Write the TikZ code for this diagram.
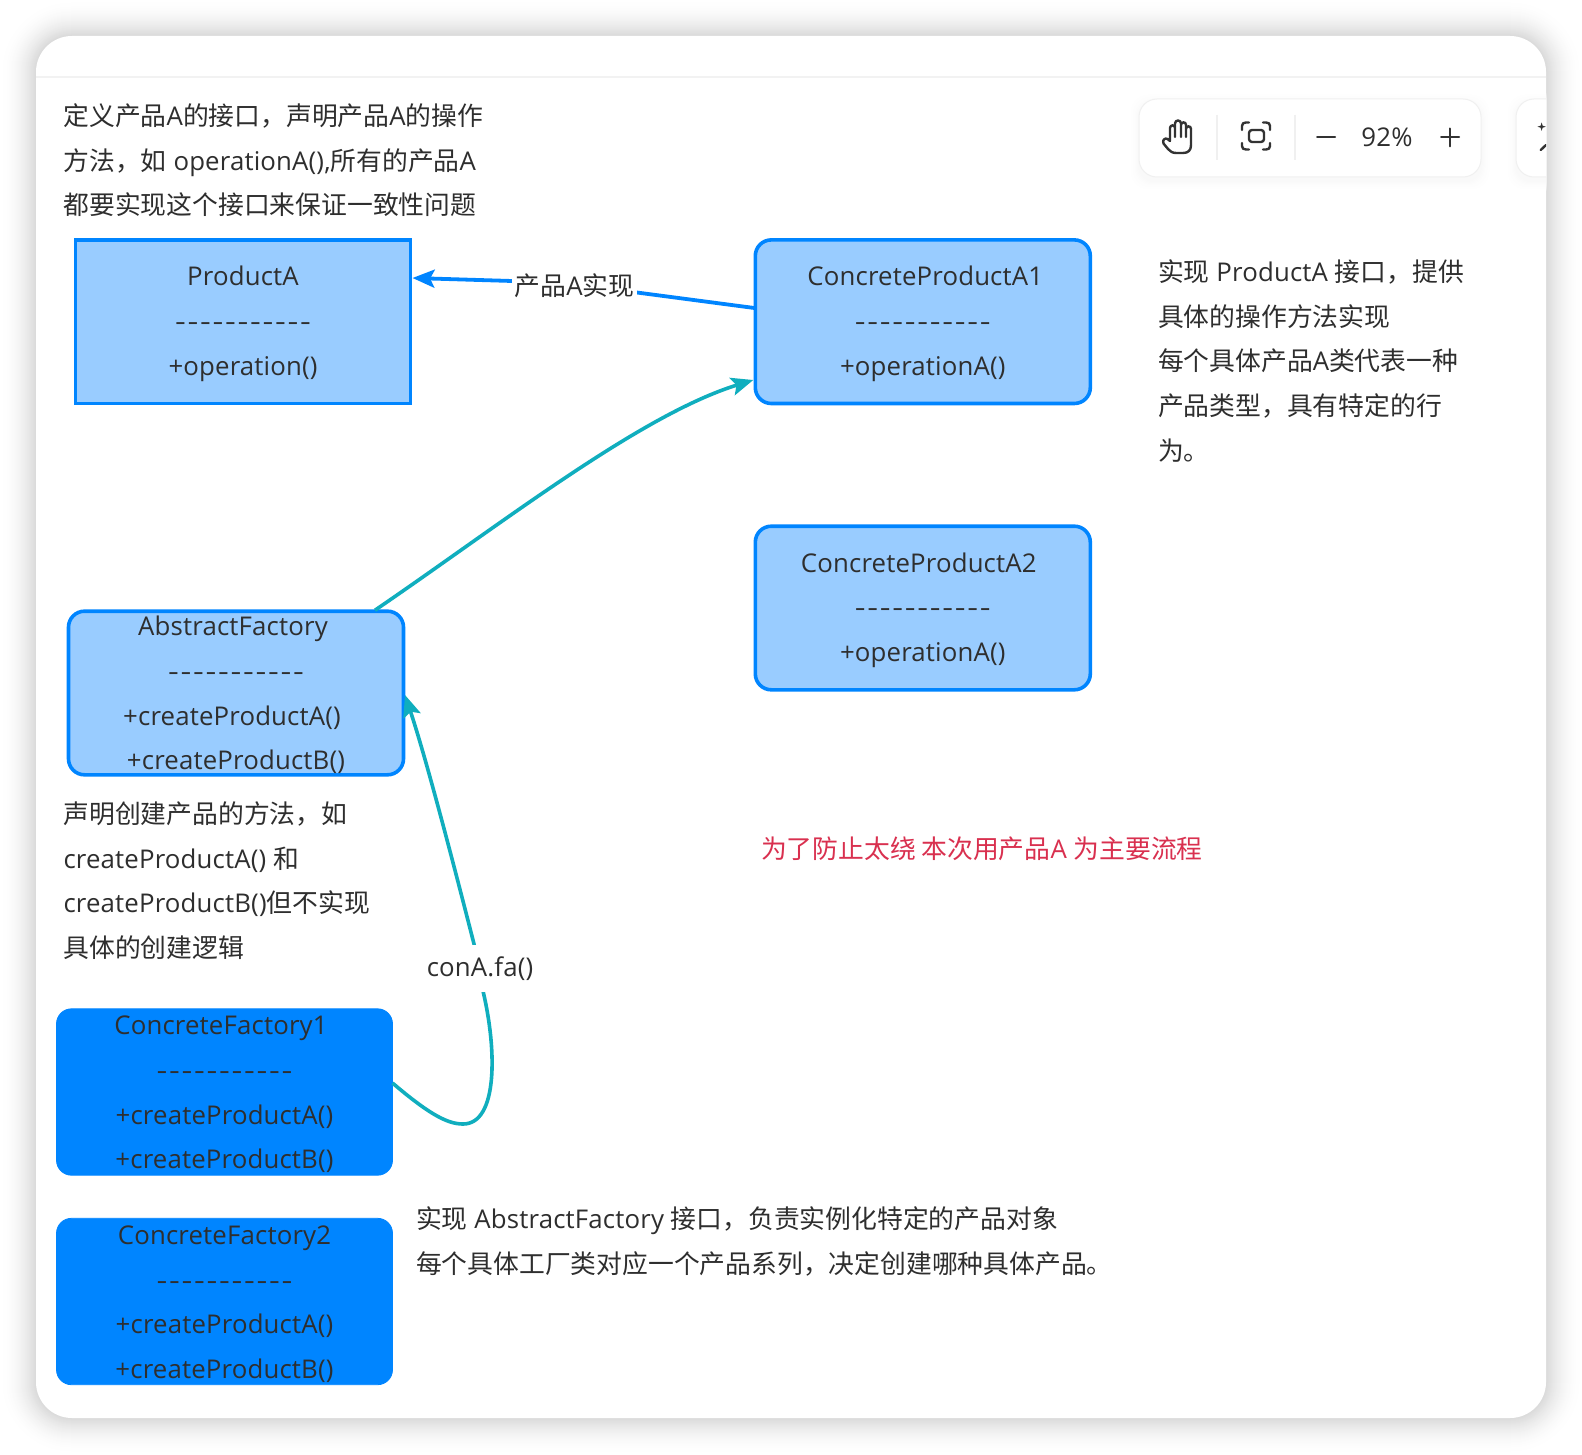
\documentclass[tikz,border=0pt]{standalone}
\usepackage{graphicx}
\usepackage{fontspec}
\setmainfont[LetterSpace=0.6]{Open Sans}
\newfontfamily\cjkf{Noto Sans CJK SC}
\newcommand{\zh}[1]{{\cjkf #1}}
\newcommand{\hy}{\scalebox{1.3}[1]{-}\kern0.85pt}
\newcommand{\dashline}{\hy\hy\hy\hy\hy\hy\hy\hy\hy\hy\scalebox{1.3}[1]{-}}
\newcommand{\lift}{\rule{0pt}{11.9pt}}
\usetikzlibrary{arrows.meta,calc}
\definecolor{txt}{HTML}{2E2E2E}
\definecolor{lightb}{HTML}{99CCFF}
\definecolor{strongb}{HTML}{0085FF}
\definecolor{tealc}{HTML}{10AEBE}
\definecolor{redc}{HTML}{D9304F}
\tikzset{
  every node/.style={text=txt,font=\fontsize{12.9}{22.35}\selectfont,outer sep=0pt},
  boxbase/.style={align=center,minimum width=167.5pt,minimum height=81.8pt,inner sep=0pt},
  sharpbox/.style={boxbase,draw=strongb,fill=lightb,line width=1.8pt},
  softbox/.style={boxbase,draw=strongb,fill=lightb,line width=1.8pt,rounded corners=8pt},
  solidbox/.style={boxbase,minimum width=168pt,minimum height=83.2pt,draw=strongb,fill=strongb,line width=0.4pt,rounded corners=7.5pt},
  note/.style={align=left,anchor=west,inner sep=0pt},
  edgelabel/.style={fill=white,inner xsep=1.5pt,inner ysep=0pt},
  bluearrow/.style={draw=strongb,line width=1.9pt,-{Stealth[length=11pt,width=9pt,inset=2.2pt]}},
  tealarrow/.style={draw=tealc,line width=1.8pt,-{Stealth[length=11pt,width=9pt,inset=2.2pt]}},
  iconline/.style={draw=black!80,line width=1.2pt,line cap=round,line join=round},
}
\begin{document}
\begin{tikzpicture}[x=0.5pt,y=-0.5pt]
\useasboundingbox (0,0) rectangle (1582,1454);
\fill[white] (0,0) rectangle (1582,1454);
% card shadow
\foreach \i in {36,35,...,1}{
  \pgfmathsetmacro{\p}{15*(1-\i/37)*(1-\i/37)}
  \pgfmathsetmacro{\r}{(36+\i)*0.5}
  \fill[black!\p!white,rounded corners=\r pt] ({36-\i},{36-\i}) rectangle ({1546+\i},{1418+\i});
}
\fill[white,rounded corners=18pt] (36,36) rectangle (1546,1418);
\draw[black!5,line width=0.7pt] (36,77) -- (1546,77);
% toolbar
\begin{scope}
\clip (36,36) rectangle (1546,1418);
\foreach \i in {10,9,...,1}{
  \pgfmathsetmacro{\p}{3*(1-\i/11)*(1-\i/11)}
  \fill[black!\p!white,rounded corners=9pt] ({1139-\i},{99-\i+4}) rectangle ({1481+\i},{177+\i+4});
  \fill[black!\p!white,rounded corners=9pt] ({1516-\i},{99-\i+4}) rectangle ({1600+\i},{177+\i+4});
}
\fill[white,rounded corners=9pt] (1139,99) rectangle (1481,177);
\fill[white,rounded corners=9pt] (1516,99) rectangle (1600,177);
\draw[black!6,line width=.5pt,rounded corners=9pt] (1139,99) rectangle (1481,177);
\draw[black!6,line width=.5pt,rounded corners=9pt] (1516,99) rectangle (1600,177);
\draw[iconline] (1540.7,150) -- (1546,145);
\fill[black!80] (1541.6,122.5) -- (1542.6,125.7) -- (1545.8,126.7) -- (1542.6,127.7) -- (1541.6,130.9) -- (1540.6,127.7) -- (1537.4,126.7) -- (1540.6,125.7) -- cycle;
\end{scope}
\draw[black!6,line width=.7pt] (1217,115) -- (1217,160);
\draw[black!6,line width=.7pt] (1295,115) -- (1295,160);
% hand icon
\draw[iconline] (1170,141) -- (1170,128) .. controls (1170,124.5) and (1175,124.5) .. (1175,128) -- (1175,137)
  (1175,128) -- (1175,123.5) .. controls (1175,119.5) and (1181,119.5) .. (1181,123.5) -- (1181,137)
  (1181,125) .. controls (1181,121.5) and (1186,121.5) .. (1186,125) -- (1186,137)
  (1186,129) .. controls (1186,125.5) and (1191,125.5) .. (1191,129) -- (1191,145)
  .. controls (1191,150.5) and (1188,153) .. (1183,153) -- (1176,153)
  .. controls (1172,153) and (1170,151) .. (1168,149) -- (1163.5,143.5)
  .. controls (1162,140) and (1165,137.5) .. (1167.5,139) -- (1170,141);
% focus icon
\draw[iconline] (1242,130) -- (1242,126) .. controls (1242,123.5) and (1243.5,122.5) .. (1246,122.5) -- (1249,122.5)
  (1263,122.5) -- (1266,122.5) .. controls (1268.5,122.5) and (1270,123.5) .. (1270,126) -- (1270,130)
  (1270,143) -- (1270,146) .. controls (1270,148.5) and (1268.5,149.5) .. (1266,149.5) -- (1263,149.5)
  (1249,149.5) -- (1246,149.5) .. controls (1243.5,149.5) and (1242,148.5) .. (1242,146) -- (1242,143);
\draw[iconline,rounded corners=1.5pt] (1249,130) rectangle (1264,142);
\draw[iconline,line width=1pt] (1317,137.5) -- (1335,137.5);
\node[inner sep=0pt] (zoomval) at (1387,137) {92\%};
\draw[iconline,line width=1pt] (1441,137.5) -- (1459,137.5) (1450,128.5) -- (1450,146.5);
% boxes
\node[sharpbox] (pa) at (243,321.7) {\lift ProductA\\\dashline\\+operation()};
\node[softbox] (a1) at (922.8,321.7) {\lift\hspace*{2.5pt}ConcreteProductA1\\\dashline\\+operationA()};
\node[softbox] (a2) at (922.8,608) {\lift ConcreteProductA2\hspace*{4pt}\\\dashline\\+operationA()};
\node[softbox] (af) at (236,693) {\lift AbstractFactory\hspace*{3pt}\\\dashline\\\hbox{+createProductA()\kern4pt}\\+createProductB()};
\node[solidbox] (cf1) at (224.5,1092) {\lift ConcreteFactory1\hspace*{3.5pt}\\\dashline\\+createProductA()\\+createProductB()};
\node[solidbox] (cf2) at (224.5,1301.5) {\lift ConcreteFactory2\\\dashline\\+createProductA()\\+createProductB()};
% notes
\node[note] (n1) at (63.5,160.4) {\zh{定义产品}A\zh{的接口，声明产品}A\zh{的操作}\\\zh{方法，如} operationA(),\zh{所有的产品}A\\\zh{都要实现这个接口来保证一致性问题}};
\node[note] (n2) at (1158,361) {\zh{实现} ProductA \zh{接口，提供}\\\zh{具体的操作方法实现}\\\zh{每个具体产品}A\zh{类代表一种}\\\zh{产品类型，具有特定的行}\\\zh{为。}};
\node[note] (n3) at (63.5,880.5) {\zh{声明创建产品的方法，如}\\createProductA() \zh{和}\\createProductB()\zh{但不实现}\\\zh{具体的创建逻辑}};
\node[note,text=redc] (n4) at (761,848.5) {\zh{为了防止太绕 本次用产品}A \zh{为主要流程}};
\node[note] (n5) at (416,1241.5) {\zh{实现} AbstractFactory \zh{接口，负责实例化特定的产品对象}\\\zh{每个具体工厂类对应一个产品系列，决定创建哪种具体产品。}};
% connectors
\draw[bluearrow] ($(a1.west)+(-1,-13.7)$) -- (633,292) -- (512,281) -- ($(pa.east)+(2,-43.7)$);
\node[edgelabel] (lab1) at (574.5,285.5) {\zh{产品}A\zh{实现}};
\draw[tealarrow] ($(af.north)+(139,-1)$) .. controls (500,525) and (640,415) .. ($(a1.west)+(-2,58.3)$);
\draw[tealarrow] ($(cf1.east)+(0,-9)$) .. controls (430,1115) and (448,1124) .. (463,1124)
  .. controls (498,1124) and (497,1050) .. (483,991) -- (474,944)
  .. controls (450,850) and (425,755) .. ($(af.east)+(1.5,2)$);
\node[edgelabel,minimum height=23.5pt] (lab2) at (480,968.5) {conA.fa()};
\end{tikzpicture}
\end{document}
